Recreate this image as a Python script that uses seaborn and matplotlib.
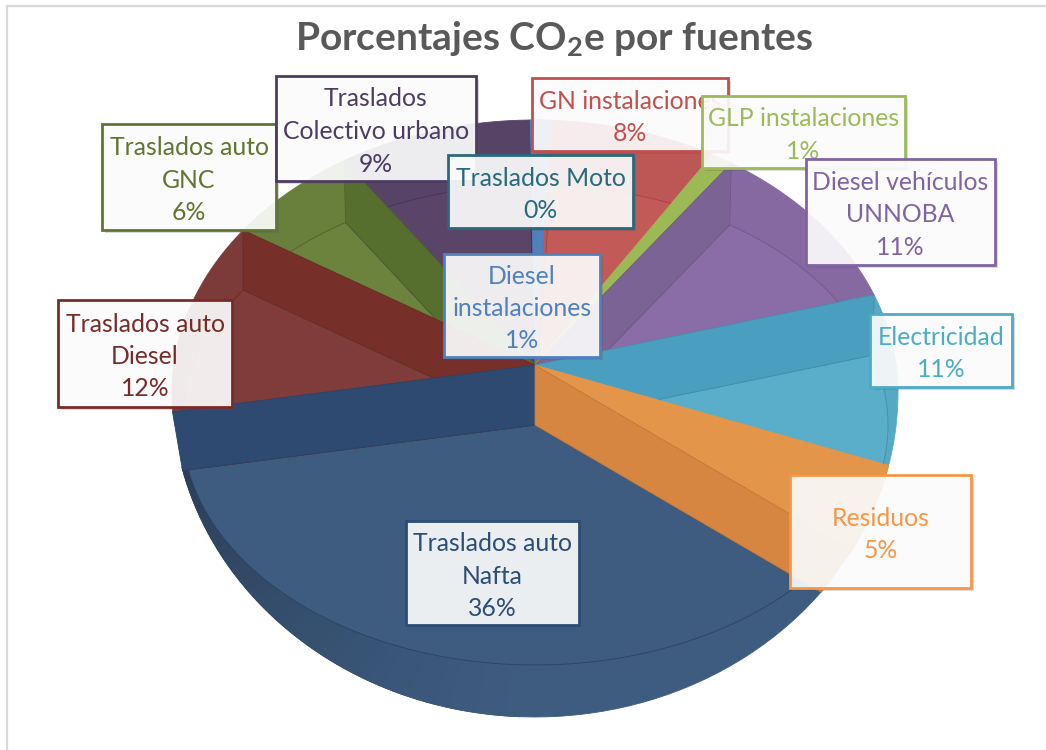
import numpy as np
import matplotlib
matplotlib.use("Agg")
import matplotlib.pyplot as plt
import matplotlib.patheffects as pe
from matplotlib.patches import Rectangle
import seaborn as sns

categories = ["GN instalaciones", "GLP instalaciones", "Diesel vehículos\nUNNOBA", "Electricidad",
              "Residuos", "Traslados auto\nNafta", "Traslados auto\nDiesel", "Traslados auto\nGNC",
              "Traslados\nColectivo urbano", "Traslados Moto", "Diesel\ninstalaciones"]
# shares
values = [7.6, 1.0, 11.0, 11.0, 5.0, 35.7, 12.49, 6.49, 8.8, 0.3, 0.6]
pct_labels = ["8%", "1%", "11%", "11%", "5%", "36%", "12%", "6%", "9%", "0%", "1%"]

label_colors = ["#c0504d", "#9bbb59", "#8064a2", "#4bacc6", "#f79646", "#2c4d75",
                "#772c2a", "#5f7530", "#4d3b62", "#276a7c", "#4f81bd"]
floor_colors = ["#c25a58", "#9bb955", "#8a6ca6", "#5aaec9", "#e39549", "#3e5c80",
                "#803c3b", "#6c833e", "#5a4568", "#4f81bd", "#4f81bd"]
wall_colors = ["#b24d4b", "#93b04f", "#7c6396", "#4a9fc0", "#d68640", "#2f4a70",
               "#772f2a", "#566f2e", "#4d3b62", "#276a7c", "#4f81bd"]

# label boxes in pixels: left, top, right, bottom
label_boxes = {
    "Traslados auto\nNafta": (406, 521, 579, 625),
    "Traslados auto\nDiesel": (58, 300, 232, 407),
    "Traslados auto\nGNC": (102, 124, 276, 230),
    "Traslados\nColectivo urbano": (276, 76, 476, 181),
    "GN instalaciones": (532, 78, 728, 151),
    "GLP instalaciones": (702, 96, 905, 168),
    "Diesel vehículos\nUNNOBA": (806, 159, 995, 265),
    "Electricidad": (870, 314, 1012, 387),
    "Residuos": (790, 475, 971, 588),
    "Traslados Moto": (448, 155, 633, 228),
    "Diesel\ninstalaciones": (444, 254, 600, 357),
}

sns.set_theme(style="white")
plt.rcParams["font.family"] = ["Lato", "DejaVu Sans"]
plt.rcParams["mathtext.fontset"] = "custom"
plt.rcParams["mathtext.bf"] = "Lato:bold"

cx, hub_top, hub_low = 535, 365, 425
disc_a, disc_b = 353, 240
sil_a, sil_cy, sil_up, sil_dn = 363, 392, 272, 325


def disc_dir(phi):
    return disc_a * np.sin(np.radians(phi)), -disc_b * np.cos(np.radians(phi))


def ray_hit(hub_y, phi):
    dx, dy = disc_dir(phi)
    for t in np.linspace(0.5, 2, 1500):
        x, y = cx + dx * t, hub_y + dy * t
        b = sil_up if y < sil_cy else sil_dn
        if ((x - cx) / sil_a) ** 2 + ((y - sil_cy) / b) ** 2 >= 1:
            return x, y
    return x, y


def sil_param(p):
    b = sil_up if p[1] < sil_cy else sil_dn
    return np.degrees(np.arctan2((p[0] - cx) / sil_a, -(p[1] - sil_cy) / b)) % 360


def sil_arc(p1, p2):
    a1, a2 = sil_param(p1), sil_param(p2)
    if a2 < a1:
        a2 += 360
    t = np.radians(np.linspace(a1, a2, 60))
    b = np.where(np.cos(t) > 0, sil_up, sil_dn)
    return np.column_stack([cx + sil_a * np.sin(t), sil_cy - b * np.cos(t)])


def disc_arc(p1, p2, hub_y):
    t = np.radians(np.linspace(p1, p2, 60))
    return np.column_stack([cx + disc_a * np.sin(t), hub_y - disc_b * np.cos(t)])


def poly(ax, pts, color, z, edge=None, lw=0.6):
    pts = np.array(pts)
    ax.fill(pts[:, 0], pts[:, 1], facecolor=color, edgecolor=edge or color, linewidth=lw, zorder=z)


def mix(c, other, f):
    c, other = np.array(matplotlib.colors.to_rgb(c)), np.array(matplotlib.colors.to_rgb(other))
    return tuple(c * (1 - f) + other * f)


fig = plt.figure(figsize=(10.46, 7.5), dpi=100)
ax = fig.add_axes([0, 0, 1, 1])
ax.set_xlim(0, 1046)
ax.set_ylim(750, 0)
ax.axis("off")

# chart frame
ax.plot([6.5, 6.5, 1046], [750, 6, 6], color="#d9d9d9", lw=1.6, zorder=0)

edges = 2.5 + np.concatenate([[0], np.cumsum(values)]) / sum(values) * 360
idx = {c.split("\n")[-1] if c.startswith("Traslados auto") else c: i for i, c in enumerate(categories)}
nafta = idx["Nafta"]
flat_top = [idx["GLP instalaciones"], idx["Residuos"], idx["Traslados Moto"], idx["Diesel\ninstalaciones"]]

# outer band of every slice
for i in range(len(values)):
    hub = hub_low if i == nafta else hub_top
    p1, p2 = ray_hit(hub, edges[i]), ray_hit(hub, edges[i + 1])
    band = floor_colors[i] if i == nafta else mix(floor_colors[i], "#000000", 0.03)
    poly(ax, [(cx, hub), *sil_arc(p1, p2)], band, 1)

# darker side of the front rim
for phi in np.arange(182, edges[nafta + 1] - 1, 2.0):
    f = 0.33 * ((phi - 182) / 78) ** 1.1
    q1 = disc_arc(phi, phi + 2, hub_low)
    q2 = sil_arc(ray_hit(hub_low, phi), ray_hit(hub_low, phi + 2))
    poly(ax, [q1[0], q1[-1], q2[-1], q2[0]], mix(floor_colors[nafta], "#000000", f), 1.5)

# lower face of every slice
for i in range(len(values)):
    if i in flat_top:
        continue
    pts = [(cx, hub_low), *disc_arc(edges[i], edges[i + 1], hub_low)]
    poly(ax, pts, floor_colors[i], 2, edge=mix(wall_colors[i], "#000000", 0.1), lw=0.6)


def wall(i, phi, z):
    if np.cos(np.radians(phi)) > 0:
        dx, dy = disc_dir(phi)
        low = (cx + dx, hub_low + dy)
    else:
        low = ray_hit(hub_low, phi)
    poly(ax, [(cx, hub_top), ray_hit(hub_top, phi), low, (cx, hub_low)], wall_colors[i], z,
         edge=mix(wall_colors[i], "#000000", 0.1))


def top_face(i, z):
    p1, p2 = ray_hit(hub_top, edges[i]), ray_hit(hub_top, edges[i + 1])
    poly(ax, [(cx, hub_top), *sil_arc(p1, p2)], floor_colors[i], z)


# cut faces, back to front
wall(idx["Traslados\nColectivo urbano"], edges[idx["Traslados\nColectivo urbano"] + 1], 3)
top_face(idx["Traslados Moto"], 3.1)
top_face(idx["Diesel\ninstalaciones"], 3.2)
top_face(idx["GLP instalaciones"], 3.3)
wall(idx["Diesel vehículos\nUNNOBA"], edges[idx["Diesel vehículos\nUNNOBA"]], 3.4)
wall(idx["Electricidad"], edges[idx["Electricidad"]], 3.5)
wall(idx["GNC"], edges[idx["GNC"] + 1], 3.6)
wall(idx["Diesel"], edges[idx["Diesel"] + 1], 3.7)
top_face(idx["Residuos"], 3.8)
wall(nafta, edges[nafta + 1], 3.9)
wall(idx["Residuos"], edges[idx["Residuos"] + 1], 4)

ax.text(554.5, 39, r"Porcentajes CO$_{\mathbf{2}}$e por fuentes", ha="center", va="center",
        fontsize=28, fontweight="bold", color="#595959", zorder=5)

# data labels, later ones on top of earlier ones
z = 10
for name, box in label_boxes.items():
    i = categories.index(name)
    x0, y0, x1, y1 = box
    rect = Rectangle((x0, y0), x1 - x0, y1 - y0, facecolor=(1, 1, 1, 0.9), edgecolor=label_colors[i],
                     linewidth=2, zorder=z)
    rect.set_path_effects([pe.SimplePatchShadow(offset=(2.5, -2.5), alpha=0.22, shadow_rgbFace="#555555"), pe.Normal()])
    ax.add_patch(rect)
    lines = name.split("\n") + [pct_labels[i]]
    for k, line in enumerate(lines):
        y = (y0 + y1) / 2 + (k - (len(lines) - 1) / 2) * 32.5 + 3
        ax.text((x0 + x1) / 2, y, line, ha="center", va="center", fontsize=17.8,
                color=label_colors[i], zorder=z + 0.5)
    z += 1

fig.savefig("out.png", dpi=100)
